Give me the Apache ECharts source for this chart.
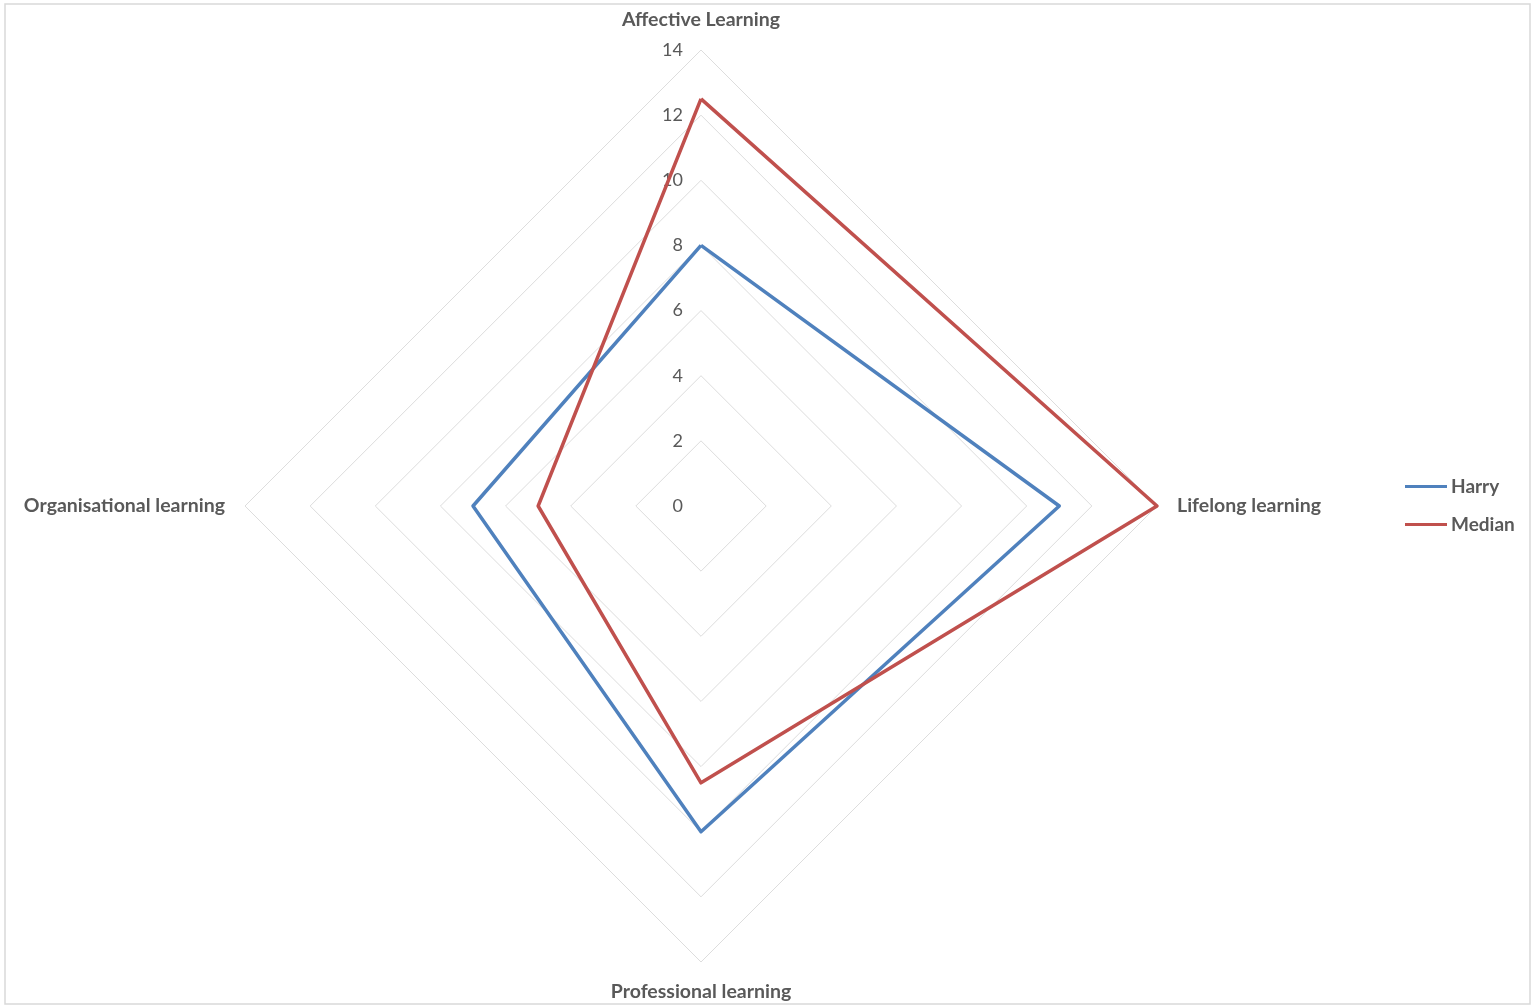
<!DOCTYPE html>
<html>
<head>
<meta charset="utf-8">
<script src="https://cdn.jsdelivr.net/npm/echarts@6/dist/echarts.min.js"></script>
<style>
  html, body { margin: 0; padding: 0; background: #ffffff; }
  #chart { width: 1533px; height: 1006px; }
</style>
</head>
<body>
<div id="chart"></div>
<script>
// Learning dimensions (listed counter-clockwise from the top, as the radar lays them out)
const categories = ['Affective Learning', 'Organisational learning', 'Professional learning', 'Lifelong learning'];
const harry = [8, 7, 10, 11];
const median = [12.5, 5, 8.5, 14];
const scaleMax = 14;
const scaleStep = 2;

const textColor = '#595959';
const fontFamily = 'Lato, "Open Sans", sans-serif';

const chart = echarts.init(document.getElementById('chart'));

chart.setOption({
  backgroundColor: '#ffffff',
  animation: false,
  graphic: [{
    type: 'rect',
    shape: { x: 5, y: 4, width: 1525, height: 1000 },
    style: { fill: 'none', stroke: '#D9D9D9', lineWidth: 1.5 },
    silent: true
  }],
  legend: {
    orient: 'vertical',
    left: 1400,
    top: 472,
    itemWidth: 42,
    itemHeight: 14,
    itemGap: 19,
    icon: 'path://M0,0 L42,0 L42,3 L0,3 Z',
    textStyle: { color: textColor, fontSize: 19, fontWeight: 'bold', fontFamily: fontFamily, padding: [0, 0, 0, -1] },
    data: ['Harry', 'Median']
  },
  radar: {
    center: [701, 506],
    radius: 456,
    startAngle: 90,
    shape: 'polygon',
    splitNumber: scaleMax / scaleStep,
    nameGap: 20,
    axisName: { color: textColor, fontSize: 19.5, fontWeight: 'bold', fontFamily: fontFamily },
    axisLine: { show: false },
    axisTick: { show: false },
    splitArea: { show: false },
    splitLine: { lineStyle: { color: '#DDDDDD', width: 1 } },
    axisLabel: { show: true, color: textColor, fontSize: 18, fontFamily: fontFamily, margin: 18 },
    indicator: categories.map((name, i) => ({
      name: name,
      min: 0,
      max: scaleMax,
      axisLabel: i === 0 ? { show: true } : { show: false }
    }))
  },
  series: [{
    type: 'radar',
    symbol: 'none',
    data: [
      { name: 'Harry', value: harry, lineStyle: { color: '#4F81BD', width: 3.5 }, itemStyle: { color: '#4F81BD' } },
      { name: 'Median', value: median, lineStyle: { color: '#C0504D', width: 3.5 }, itemStyle: { color: '#C0504D' } }
    ]
  }]
});
</script>
</body>
</html>
